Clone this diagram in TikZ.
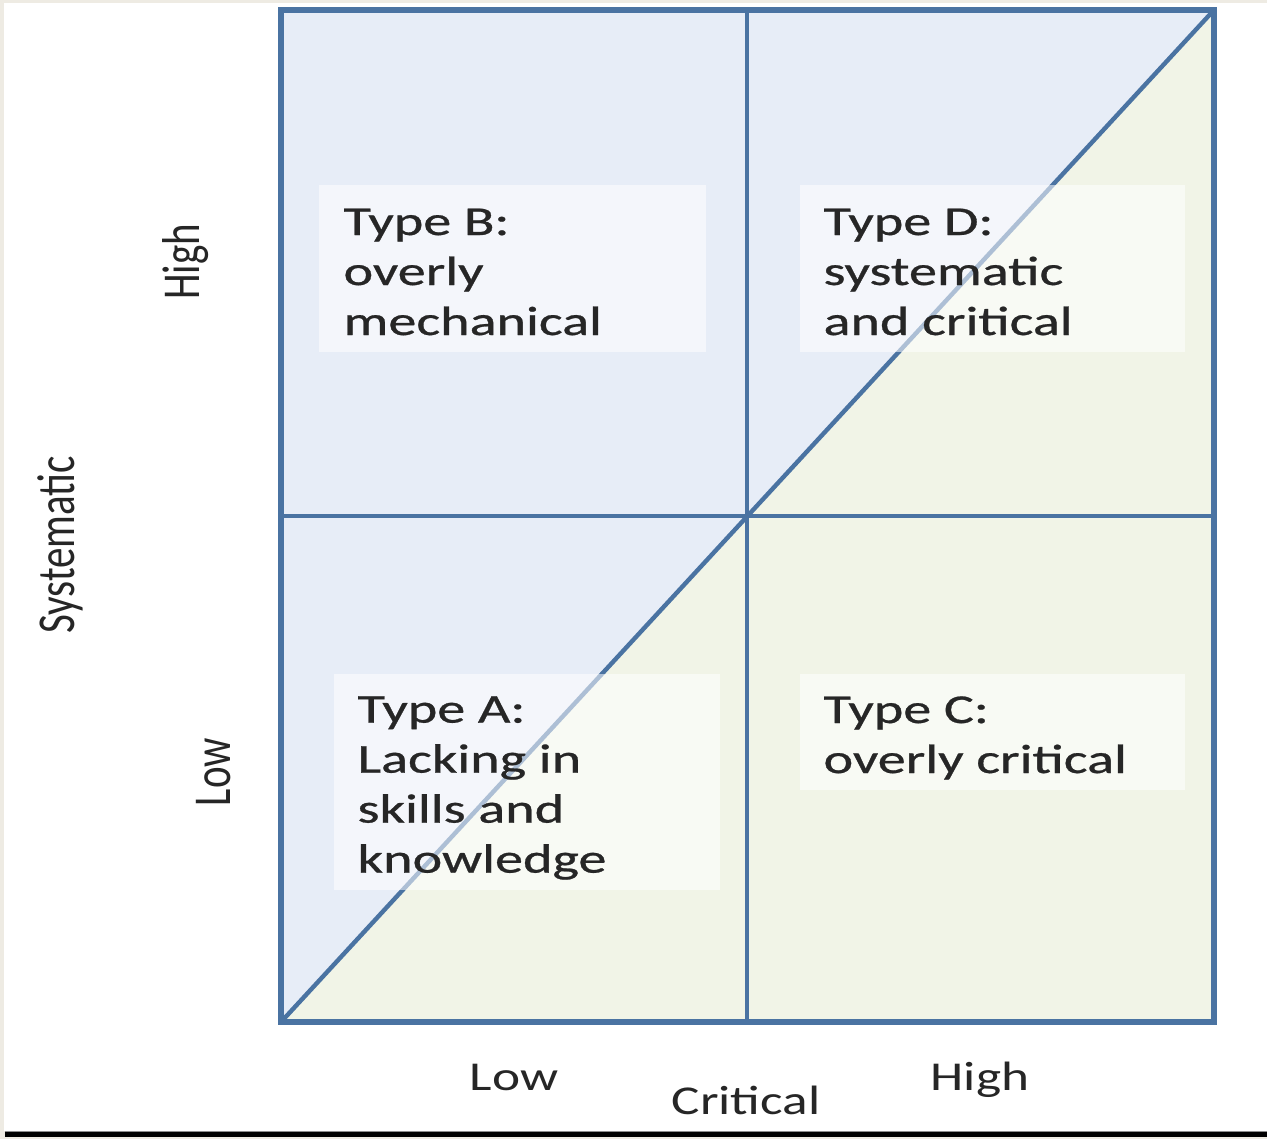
\documentclass[tikz,border=0pt]{standalone}
\usepackage{fontspec}
\setmainfont{Carlito}
\newfontfamily\boxfont[FakeBold=0.6]{Carlito}
\definecolor{pagebg}{HTML}{EEEBE3}
\definecolor{linec}{HTML}{4A73A2}
\definecolor{bluefill}{HTML}{E7EDF7}
\definecolor{greenfill}{HTML}{F1F4E7}
\definecolor{txt}{HTML}{262626}
\begin{document}
\begin{tikzpicture}[x=0.5pt,y=-0.5pt,
  tbox/.style={fill=white, fill opacity=0.55, draw=none, inner sep=0, anchor=north west},
  ttext/.style={font=\boxfont\fontsize{20.5}{25}\selectfont, text=txt, align=left, inner sep=0, anchor=west, xscale=1.37},
  axlab/.style={font=\fontsize{20.5}{25}\selectfont, text=txt, inner sep=0, anchor=base, xscale=1.3},
  vlab/.style={font=\fontsize{20.5}{25}\selectfont, text=txt, inner sep=0, anchor=base, xscale=1.3, rotate=90},
  grid/.style={draw=linec, line width=1.6pt},
  diag/.style={draw=linec, line width=2.2pt},
  frame/.style={draw=linec, line width=2.8pt, line join=miter}]
\useasboundingbox (0,0) rectangle (1267,1139);
% page background
\fill[pagebg] (0,0) rectangle (1267,1139);
\fill[white] (4,3) rectangle (1267,1131);
\fill[black!45] (5,1130.5) rectangle (1267,1132);
\fill[black] (5,1132) rectangle (1267,1137);
% corners of the matrix
\coordinate (tl) at (281,10);
\coordinate (tr) at (1214,10);
\coordinate (bl) at (281,1022);
\coordinate (br) at (1214,1022);
\coordinate (tm) at (747,10);
\coordinate (bm) at (747,1022);
\coordinate (lm) at (281,516);
\coordinate (rm) at (1214,516);
% fills
\fill[bluefill] (bl) -- (tl) -- (tr) -- cycle;
\fill[greenfill] (bl) -- (br) -- (tr) -- cycle;
% grid lines
\draw[grid] (tm) -- (bm);
\draw[grid] (lm) -- (rm);
\draw[diag] (bl) -- (tr);
% text boxes
\node (boxB) [tbox, minimum width=193.5pt, minimum height=83.5pt] at (319,185) {};
\node (boxD) [tbox, minimum width=192.5pt, minimum height=83.5pt] at (800,185) {};
\node (boxA) [tbox, minimum width=193pt, minimum height=108pt] at (334,674) {};
\node (boxC) [tbox, minimum width=192.5pt, minimum height=58pt] at (800,674) {};
% texts
\node (tB) [ttext] at (343,272) {Type B:\\overly\\mechanical};
\node (tD) [ttext] at (823,272) {Type D:\\systematic\\and critical};
\node (tA) [ttext] at (357,788) {Type A:\\Lacking in\\skills and\\knowledge};
\node (tC) [ttext] at (823,738) {Type C:\\overly critical};
% frame
\draw[frame] (tl) rectangle (br);
% axis labels
\node (lowx) [axlab] at (514,1090) {Low};
\node (highx) [axlab] at (980,1090) {High};
\node (critx) [axlab] at (746,1114) {Critical};
\node (sysy) [vlab] at (74,545) {Systematic};
\node (highy) [vlab] at (199,262) {High};
\node (lowy) [vlab] at (230,772) {Low};
\end{tikzpicture}
\end{document}
